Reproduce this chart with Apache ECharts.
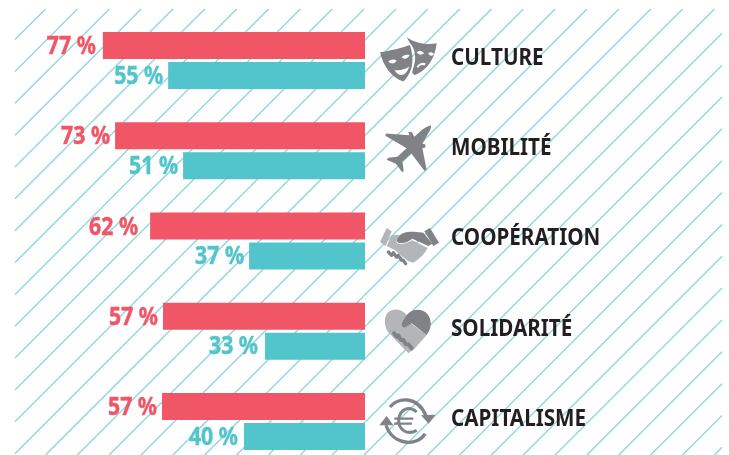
<!DOCTYPE html>
<html>
<head>
<meta charset="utf-8">
<style>html,body{margin:0;padding:0;background:#fff}#c{width:729px;height:455px}</style>
<script src="https://cdn.jsdelivr.net/npm/echarts@6/dist/echarts.min.js"></script>
</head>
<body>
<div id="c"></div>
<script>
const categories = ['CULTURE', 'MOBILITÉ', 'COOPÉRATION', 'SOLIDARITÉ', 'CAPITALISME'];
// Printed percentages of the reference.
const redLabels = [77, 73, 62, 57, 57];
const tealLabels = [55, 51, 37, 33, 40];
// The reference's bars are not strictly proportional to their printed numbers,
// so bar lengths are read separately from the picture, in axis units.
const redLengths = [77.1, 73.5, 63.2, 59.4, 59.7];
const tealLengths = [57.9, 53.5, 34.1, 29.4, 35.6];
// Space between each percent label and its bar, as in the reference.
const redGaps = [7, 5, 12, 5, 5];
const tealGaps = [5, 5, 5, 7, 6];

const RED = '#f15666', TEAL = '#52c5cc', DARK = '#808285', LIGHT = '#b3b5b8';
// Icons are authored at 3x around the row anchor, hence the group scale below.
const icons = [
  { ox: 15, oy: 122, parts: [
    { d: 'M60,97 C90,92 125,84 150,75 C160,110 165,150 130,185 C95,172 70,140 60,97 Z', fill: DARK },
    { d: 'M85,125 C92,133 104,133 110,122 C102,117 92,118 85,125 Z M125,112 C132,119 142,118 149,106 C140,103 131,105 125,112 Z M104,150 C115,172 137,172 148,140 C132,150 118,153 104,150 Z', fill: '#fff' },
    { d: 'M140,52 C165,70 200,76 230,70 C226,110 205,150 165,165 C158,163 155,158 158,150 C172,115 165,85 150,70 Z', fill: DARK },
    { d: 'M170,97 C176,106 186,106 192,100 C186,92 176,92 170,97 Z M205,100 C208,108 216,110 222,102 C216,96 210,96 205,100 Z M170,140 C178,128 190,126 197,130 L194,137 C186,133 178,136 174,144 Z', fill: '#fff' }
  ]},
  { ox: 15, oy: 393, parts: [
    { d: 'M213,316 C205,318 190,325 178,337 L163,351 L155,336 L145,337 L148,346 L78,341 L76,348 L140,385 L112,411 L85,414 L80,420 L108,432 L127,458 L131,452 L127,425 L154,401 L193,453 L200,450 L187,385 L197,382 L195,373 L187,372 L203,343 C211,331 215,322 213,316 Z', fill: DARK }
  ]},
  { ox: -30, oy: 57.3, parts: [
    { d: 'M35,18 L50,28 L32,72 L15,60 Z', fill: LIGHT },
    { d: 'M50,40 L75,38 C65,48 60,60 70,65 C85,68 100,62 112,55 L158,78 C150,95 135,110 115,122 L100,118 L60,85 L35,72 Z', fill: LIGHT },
    { d: 'M148,28 L165,18 L192,62 L175,72 Z', fill: DARK },
    { d: 'M72,42 C85,28 105,28 125,30 L145,32 L172,65 L160,72 L112,50 C100,60 85,65 70,62 C62,58 65,50 72,42 Z', fill: DARK },
    { d: 'M40,90 L50,100 M55,92 L65,106 M70,100 L80,115 M85,115 L92,125', stroke: DARK, lw: 10, cap: 'round' }
  ]},
  { ox: -45, oy: 79.2, parts: [
    { d: 'M78,28 C65,12 40,8 25,22 C10,35 12,65 25,82 L70,130 L85,145 L105,130 L140,90 L85,50 Z', fill: LIGHT },
    { d: 'M80,30 C95,12 125,8 140,25 C158,45 155,70 140,90 L95,55 L75,68 C65,68 63,60 68,50 Z', fill: DARK },
    { d: 'M42,85 L50,95 M55,92 L63,105 M70,105 L78,118 M85,118 L95,130', stroke: DARK, lw: 12, cap: 'round' }
  ]},
  { ox: -33, oy: 88.8, parts: [
    { d: 'M42,45 C65,15 125,10 150,72', stroke: DARK, lw: 10 },
    { d: 'M135,70 L178,68 L158,95 Z', fill: DARK },
    { d: 'M147,125 C125,165 50,160 30,100', stroke: DARK, lw: 10 },
    { d: 'M10,100 L52,100 L32,72 Z', fill: DARK },
    { d: 'M122,60 C100,40 70,50 68,85 C68,115 95,130 122,115', stroke: DARK, lw: 9 },
    { d: 'M55,80 L112,80 M55,95 L108,95', stroke: DARK, lw: 7 }
  ]}
];

const chart = echarts.init(document.getElementById('c'), null, { renderer: 'canvas' });

// Diagonal hatch background (decoration only).
const hatch = [];
const L = 15, R = 722, T = 9, B = 455;
for (let c = 54.6; c < R + B; c += 31.85) {
  const x1 = Math.max(L, c - B), y1 = c - x1;
  const x2 = Math.min(R, c - T), y2 = c - x2;
  if (x2 > x1) hatch.push({
    type: 'line', silent: true, z: -1,
    shape: { x1, y1, x2, y2 },
    style: { stroke: '#92d6de', lineWidth: 1.4 }
  });
}

function barSeries(name, lengths, color) {
  return {
    name, type: 'bar', data: lengths, barWidth: 27, barGap: '11%',
    silent: true, z: 3, clip: false, itemStyle: { color }
  };
}

// Percent labels: real text, narrowed to the reference's condensed face.
function labelSeries(lengths, labels, gaps, color, dy) {
  return {
    type: 'custom', silent: true, z: 5, clip: false,
    data: lengths.map((v, i) => [v, i]),
    encode: { x: 0, y: 1 },
    renderItem(params, api) {
      const p = api.coord([api.value(0), api.value(1)]);
      return {
        type: 'text', x: p[0] - gaps[params.dataIndex], y: p[1] + dy, scaleX: 0.85,
        style: {
          text: labels[params.dataIndex] + ' %', fill: color,
          stroke: color, lineWidth: 0.5,
          fontFamily: '"Noto Sans"', fontWeight: 'bold', fontSize: 25,
          align: 'right', verticalAlign: 'middle'
        }
      };
    }
  };
}

chart.setOption({
  animation: false,
  backgroundColor: '#fff',
  graphic: hatch,
  grid: { left: 25, width: 340, top: 60.6, height: 361, containLabel: false },
  xAxis: { type: 'value', inverse: true, min: 0, max: 100, show: false },
  yAxis: {
    type: 'category', inverse: true, data: categories, position: 'right', boundaryGap: false,
    axisLine: { show: false }, axisTick: { show: false }, axisLabel: { show: false }
  },
  series: [
    barSeries('red', redLengths, RED),
    barSeries('teal', tealLengths, TEAL),
    labelSeries(redLengths, redLabels, redGaps, RED, -13.5),
    labelSeries(tealLengths, tealLabels, tealGaps, TEAL, 16),
    {
      type: 'custom', silent: true, z: 4, clip: false,
      data: categories.map((_, i) => [0, i]),
      encode: { x: 0, y: 1 },
      renderItem(params, api) {
        const p = api.coord([0, api.value(1)]);
        const icon = icons[params.dataIndex];
        return {
          type: 'group',
          children: [{
            type: 'text', x: p[0] + 86, y: p[1] - 2.5, scaleX: 0.86,
            style: {
              text: categories[params.dataIndex], fill: '#231f20',
              fontFamily: '"Noto Sans"', fontWeight: 'bold', fontSize: 24,
              align: 'left', verticalAlign: 'middle'
            }
          }, {
            type: 'group', x: p[0], y: p[1], scaleX: 1 / 3, scaleY: 1 / 3,
            children: [{
              type: 'group', x: -icon.ox, y: -icon.oy,
              children: icon.parts.map(part => ({
                type: 'path',
                shape: { pathData: part.d },
                style: part.stroke
                  ? { fill: 'none', stroke: part.stroke, lineWidth: part.lw, lineCap: part.cap || 'butt' }
                  : { fill: part.fill }
              }))
            }]
          }]
        };
      }
    }
  ]
});
</script>
</body>
</html>
